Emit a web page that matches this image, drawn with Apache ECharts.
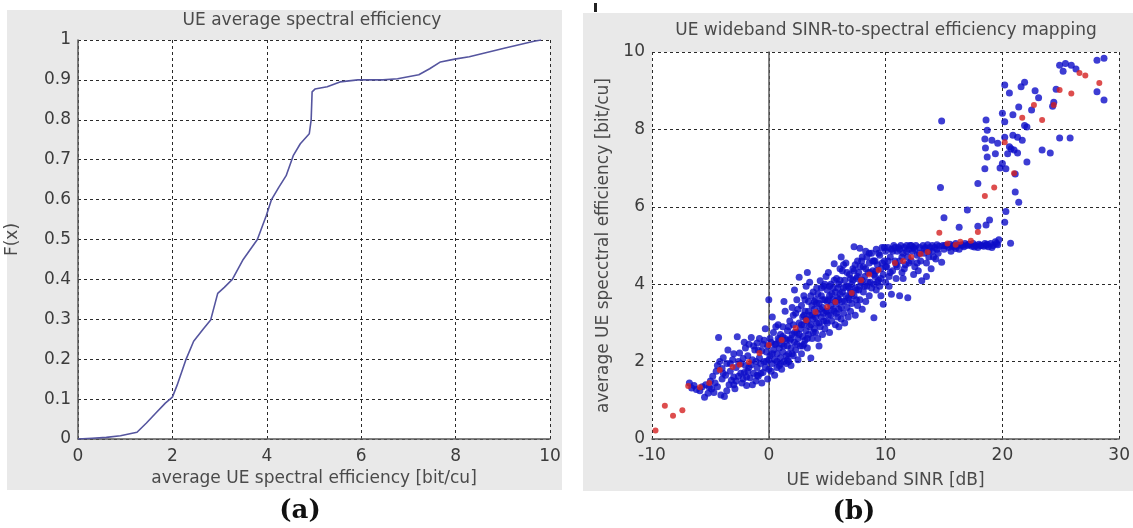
<!DOCTYPE html>
<html>
<head>
<meta charset="utf-8">
<script src="https://cdn.jsdelivr.net/npm/echarts@6/dist/echarts.min.js"></script>
<style>
  html, body { margin: 0; padding: 0; background: #ffffff; }
  #chart { width: 1133px; height: 528px; }
</style>
</head>
<body>
<div id="chart"></div>
<script>
// (a) empirical CDF of the average UE spectral efficiency
const cdfX = [0, 0.3, 0.6, 0.9, 1.25, 1.45, 1.65, 1.85, 2.0, 2.1, 2.28, 2.45, 2.65, 2.81, 2.96, 3.1, 3.27, 3.5, 3.8, 3.99,
  4.1, 4.25, 4.41, 4.56, 4.71, 4.9, 4.94, 4.96, 5.02, 5.28, 5.55, 5.93, 6.46, 6.77, 7.22, 7.45, 7.68, 7.98, 8.29, 9.05, 9.66, 9.81];
const cdfF = [0, 0.002, 0.004, 0.008, 0.017, 0.04, 0.065, 0.09, 0.105, 0.135, 0.197, 0.245, 0.275, 0.298, 0.365, 0.38, 0.40, 0.45, 0.5, 0.56,
  0.6, 0.63, 0.66, 0.71, 0.74, 0.765, 0.8, 0.87, 0.877, 0.883, 0.895, 0.9, 0.9, 0.903, 0.913, 0.928, 0.945, 0.952, 0.958, 0.98, 0.997, 1.0];

// (b) per-UE samples: [wideband SINR (dB), average spectral efficiency (bit/cu)]
const ueSamples = [
  [-6.8,1.45],[-6.6,1.32],[-6.4,1.38],[-6.2,1.28],
  [-5.9,1.25],[-5.7,1.35],[-5.5,1.08],[-5.4,1.4],[-5.2,1.18],[-5.1,1.34],[-5.0,1.5],
  [-4.9,1.29],[-4.8,1.62],[-4.6,1.45],[-4.5,1.75],[-4.4,1.9],[-4.3,2.62],[-4.2,2.0],[-4.1,1.14],[-4.0,1.55],[-4.0,1.82],
  [-3.9,2.1],[-3.8,1.1],[-3.7,1.65],[-3.6,1.95],[-3.5,2.3],[-3.4,1.4],[-3.3,1.75],[-3.2,1.52],[-3.1,2.05],[-3.0,1.6],[-3.0,2.2],
  [-2.9,1.3],[-2.8,1.85],[-2.7,2.64],[-2.6,1.62],[-2.5,2.22],[-2.4,1.95],[-2.3,1.45],[-2.2,2.08],[-2.1,1.72],[-2.0,1.9],[-2.0,2.35],[-2.2,1.55],
  [-1.9,1.38],[-1.8,2.15],[-1.7,2.45],[-1.6,1.58],[-1.5,1.92],[-1.4,2.05],[-1.3,1.7],[-1.2,2.3],[-1.1,1.5],[-1.0,2.48],[-1.0,1.85],[-1.5,2.62],[-1.8,1.75],
  [-0.9,1.62],[-0.8,2.1],[-0.7,1.95],[-0.6,2.28],[-0.5,1.72],[-0.4,2.55],[-0.3,2.85],[-0.2,2.0],[-0.1,1.55],[-0.1,2.4],[0.0,3.6],[-0.6,1.45],[-0.3,1.85],[-0.8,2.6],
  [0.1,2.15],[0.2,1.75],[0.2,2.5],[0.3,1.95],[0.4,2.3],[0.4,2.75],[0.5,1.65],[0.5,2.05],[0.6,2.45],[0.7,1.85],[0.7,2.2],[0.8,2.95],[0.8,2.6],[0.9,1.9],[0.9,2.35],[1.0,2.1],[1.0,2.7],[0.3,3.15],
  [1.1,1.8],[1.1,2.45],[1.2,2.25],[1.2,2.9],[1.3,2.0],[1.4,2.6],[1.4,3.3],[1.5,2.15],[1.5,1.95],[1.6,2.4],[1.6,2.8],[1.7,2.2],[1.8,3.05],[1.8,2.55],[1.9,1.9],[1.9,2.35],[2.0,2.7],[2.0,3.4],[1.3,3.55],[1.7,2.0],
  [2.1,2.15],[2.1,2.95],[2.2,2.5],[2.3,3.25],[2.3,2.3],[2.4,2.75],[2.4,3.6],[2.5,2.05],[2.5,2.6],[2.6,4.18],[2.6,3.0],[2.7,2.4],[2.7,2.85],[2.8,3.45],[2.8,2.2],[2.9,2.65],[2.9,3.15],[3.0,2.45],[3.0,3.7],[2.2,3.85],[3.0,2.95],
  [3.1,2.55],[3.1,3.3],[3.2,2.8],[3.2,3.95],[3.3,2.35],[3.3,3.05],[3.4,3.55],[3.4,2.7],[3.5,3.2],[3.5,4.05],[3.6,2.09],[3.6,2.95],[3.7,3.45],[3.7,2.6],[3.8,3.8],[3.8,3.1],[3.9,2.85],[3.9,3.35],[4.0,3.6],[4.0,2.75],[3.3,4.3],
  [4.1,3.0],[4.1,3.9],[4.2,3.25],[4.2,2.6],[4.3,3.5],[4.4,4.09],[4.4,2.9],[4.5,3.7],[4.5,3.15],[4.6,2.7],[4.6,3.4],[4.7,3.95],[4.7,3.05],[4.8,3.6],[4.8,2.85],[4.9,3.3],[4.9,4.2],[5.0,3.0],[5.0,3.55],[5.0,3.85],[4.3,2.4],
  [5.1,3.2],[5.1,4.3],[5.2,3.7],[5.2,2.75],[5.3,3.45],[5.3,4.0],[5.4,3.05],[5.5,3.6],[5.5,3.9],[5.6,4.53],[5.6,3.3],[5.7,2.95],[5.7,3.8],[5.8,3.5],[5.8,4.15],[5.9,3.15],[5.9,3.65],[6.0,4.0],[6.0,3.35],[6.0,2.9],
  [6.1,3.75],[6.1,4.4],[6.2,3.1],[6.3,4.35],[6.3,3.55],[6.4,3.9],[6.4,3.25],[6.5,4.1],[6.5,3.0],[6.6,3.7],[6.6,4.55],[6.7,3.4],[6.8,3.95],[6.8,3.15],[6.9,4.25],[6.9,3.6],[7.0,3.8],[7.0,3.3],[6.2,4.7],
  [7.1,4.0],[7.1,3.5],[7.2,4.4],[7.3,4.97],[7.3,3.7],[7.4,3.2],[7.5,4.15],[7.5,3.85],[7.6,4.6],[7.6,3.45],[7.7,4.3],[7.8,3.95],[7.8,3.6],[7.8,4.93],[7.95,4.6],[8.0,4.1],[8.0,3.35],[7.4,4.5],
  [8.1,3.8],[8.1,4.45],[8.2,4.2],[8.3,3.55],[8.4,4.7],[8.4,3.95],[8.5,4.3],[8.6,3.7],[8.6,4.55],[8.7,4.05],[8.8,4.8],[8.8,3.9],[8.9,4.35],[9.0,3.13],[9.0,4.6],[9.0,4.0],[8.3,4.85],
  [9.1,4.2],[9.2,4.9],[9.2,3.85],[9.3,4.5],[9.4,4.1],[9.5,4.75],[9.5,3.95],[9.6,4.4],[9.7,4.95],[9.8,3.48],[9.8,4.25],[9.9,4.6],[10.0,4.85],[10.0,4.05],[9.6,3.7],
  [10.1,4.45],[10.2,4.95],[10.3,4.2],[10.4,4.7],[10.5,3.74],[10.5,4.9],[10.6,4.35],[10.7,5.0],[10.8,4.6],[10.9,4.15],[11.0,4.85],[11.0,4.45],[11.2,3.7],[10.3,3.95],
  [11.1,4.95],[11.2,4.6],[11.3,5.0],[11.4,4.3],[11.5,4.8],[11.6,4.95],[11.7,4.5],[11.8,5.0],[11.9,3.65],[11.9,4.7],[12.0,4.9],[11.5,4.15],
  [12.1,5.0],[12.2,4.6],[12.3,4.85],[12.4,4.95],[12.5,4.45],[12.6,5.0],[12.7,4.75],[12.8,4.35],[12.9,4.95],[13.0,4.6],[13.1,4.09],[12.4,4.25],
  [13.2,5.0],[13.3,4.8],[13.4,4.95],[13.5,4.55],[13.6,5.02],[13.7,4.7],[13.8,4.95],[13.9,4.4],[14.0,4.85],[14.0,5.0],[13.5,4.2],
  [14.2,4.95],[14.3,4.65],[14.4,5.02],[14.5,4.8],[14.6,4.98],[14.8,4.57],[14.9,5.0],[15.0,4.9],
  [15.2,5.0],[15.4,4.95],[15.5,5.03],[15.7,4.98],[15.8,5.0],[16.0,4.92],[16.0,5.05],[15.6,4.85],
  [16.2,5.0],[16.5,5.02],[16.7,4.97],[16.8,5.05],[17.0,5.0],[16.3,4.9],
  [17.2,5.02],[17.4,4.98],[17.5,5.05],[17.7,5.0],[17.9,4.95],[18.0,5.03],
  [18.2,5.0],[18.4,4.98],[18.5,5.05],[18.6,5.0],[18.8,4.97],[19.0,5.05],[19.2,5.0],[19.4,5.1],[19.6,5.02],[19.7,5.15],
  [-4.7,1.2],[-4.4,1.35],[-3.9,1.7],[-3.6,1.25],[-3.3,1.95],[-3.0,1.4],
  [-2.8,1.5],[-2.6,2.0],[-2.4,1.7],[-2.1,2.5],[-1.9,1.6],[-1.7,1.85],[-1.4,1.4],[-1.3,2.4],[-1.1,2.0],[-1.0,1.65],
  [-0.9,2.3],[-0.7,1.7],[-0.5,2.45],[-0.4,2.0],[-0.2,2.25],[0.0,1.8],[0.0,2.05],[0.1,2.6],[0.3,2.2],[0.5,2.45],[0.6,2.9],[0.7,2.0],[0.9,2.55],[1.0,1.95],
  [1.2,2.65],[1.3,2.4],[1.5,2.55],[1.6,2.05],[1.7,2.9],[1.9,2.6],[2.0,2.2],[2.1,3.2],[2.2,2.75],[2.4,2.45],[2.5,3.35],[2.6,2.7],[2.8,2.95],[2.9,2.4],[3.0,3.2],
  [3.1,3.6],[3.2,3.1],[3.3,2.6],[3.4,3.3],[3.5,2.9],[3.6,3.7],[3.7,3.2],[3.8,2.75],[3.9,3.55],[4.0,3.15],[4.1,3.5],[4.2,3.75],[4.3,3.0],[4.4,3.35],[4.5,3.9],[4.6,3.6],[4.7,3.25],[4.8,4.0],[4.9,3.05],[5.0,3.3],
  [5.1,3.6],[5.2,3.95],[5.3,3.2],[5.4,3.75],[5.5,3.35],[5.6,4.1],[5.7,3.55],[5.8,3.25],[5.9,3.9],[6.0,3.6],[6.1,4.1],[6.2,3.4],[6.3,3.8],[6.4,4.5],[6.5,3.55],[6.6,3.95],[6.7,4.3],[6.8,3.65],[6.9,3.9],[7.0,4.15],
  [7.1,3.75],[7.2,4.1],[7.3,4.35],[7.4,3.9],[7.5,3.6],[7.6,4.2],[7.7,3.85],[7.8,4.45],[7.9,4.05],[8.0,4.7],[8.2,3.95],[8.3,4.4],[8.5,4.05],[8.6,4.8],[8.7,4.3],[8.9,4.6],[9.0,4.25],
  [9.1,4.6],[9.2,4.35],[9.3,4.05],[9.4,4.8],[9.6,4.15],[9.7,4.55],[9.9,4.95],[10.0,4.45],[10.2,4.6],[10.4,4.3],[10.6,4.85],[10.8,4.95],[10.9,4.5],
  [11.2,4.9],[11.4,4.7],[11.6,4.4],[11.8,4.85],[12.0,4.55],[12.2,5.0],[12.5,4.9],[12.7,4.55],[12.9,4.8],
  [13.3,4.9],[13.7,4.85],[14.1,4.7],[14.4,4.9],[15.1,5.0],[15.9,4.97],[16.6,5.0],[17.1,5.03],[17.6,4.96],[18.1,5.0],[18.7,5.03],[19.1,4.95],[19.5,5.05],
  [14.7,6.5],[14.8,8.22],[15.0,5.72],[16.3,5.47],[17.0,5.92],[17.9,5.5],[17.9,6.6],[18.5,6.98],[18.5,7.75],[18.55,7.52],
  [18.7,7.29],[18.6,8.24],[18.7,7.98],[18.6,5.53],[18.9,5.66],[19.1,7.72],[19.4,7.37],[19.6,7.64],[19.8,7.0],[20.0,7.12],
  [20.0,8.42],[20.2,9.15],[20.2,8.2],[20.2,7.8],[20.2,5.6],[20.3,5.88],[20.3,6.98],[20.45,7.37],[20.6,8.94],[20.6,7.55],
  [20.7,5.06],[20.75,7.5],[20.9,8.38],[20.9,7.85],[21.0,7.47],[21.1,6.85],[21.1,6.38],[21.3,7.8],[21.3,7.39],[21.4,6.12],
  [21.4,8.58],[21.6,9.1],[21.7,7.72],[21.9,9.22],[21.9,8.1],[22.1,7.16],[22.1,8.06],[22.5,8.5],[22.8,9.0],[23.1,8.82],
  [23.4,7.47],[24.1,7.39],[24.3,8.6],[24.4,8.7],[24.6,9.04],[24.9,9.66],[25.2,9.5],[25.4,9.7],[25.9,9.66],[26.3,9.56],
  [24.9,7.78],[25.8,7.78],[28.1,8.97],[28.7,8.76],[28.1,9.79],[28.7,9.84]
];

// (b) binned mapping points
const meanMapping = [
  [-9.7,0.22],[-8.9,0.86],[-8.2,0.6],[-7.4,0.74],[-6.9,1.37],[-5.9,1.34],[-5.1,1.45],[-4.2,1.78],[-3.1,1.86],[-2.5,1.92],
  [-1.7,1.99],[-0.8,2.22],[0.0,2.43],[1.1,2.56],[2.3,2.87],[3.2,3.07],[4.0,3.28],[5.0,3.41],[5.7,3.54],[7.1,3.77],
  [7.9,4.1],[8.6,4.25],[9.4,4.37],[10.8,4.55],[11.5,4.6],[12.2,4.7],[13.0,4.78],[13.6,4.83],[14.6,5.33],[15.3,5.05],
  [16.0,5.02],[16.4,5.1],[17.3,5.12],[17.9,5.35],[18.5,6.28],[19.3,6.5],[20.2,7.67],[21.0,6.87],[21.7,8.3],[22.7,8.63],
  [23.4,8.24],[24.4,8.63],[24.9,9.02],[25.9,8.93],[26.6,9.46],[27.1,9.39],[28.3,9.2]
];

const cdfData = cdfX.map((x, i) => [x, cdfF[i]]);

const FONT = 'DejaVu Sans';
const tickText = { fontFamily: FONT, fontSize: 17, color: '#3c3c3c' };
const nameText = { fontFamily: FONT, fontSize: 17, color: '#4a4a4a' };
const gridLine = { show: true, lineStyle: { color: '#2a2a2a', width: 1, type: [3, 3] } };
const axisLine = { show: true, lineStyle: { color: '#5a5a5a', width: 1.5 } };

const chart = echarts.init(document.getElementById('chart'), null, { renderer: 'canvas' });

chart.setOption({
  animation: false,
  backgroundColor: '#ffffff',
  graphic: [
    { type: 'rect', z: -10, shape: { x: 7, y: 10, width: 555, height: 480 }, style: { fill: '#e9e9e9' } },
    { type: 'rect', z: -10, shape: { x: 583, y: 13, width: 550, height: 478 }, style: { fill: '#e9e9e9' } },
    { type: 'rect', z: -10, shape: { x: 594, y: 3, width: 3, height: 9 }, style: { fill: '#222222' } },
    { type: 'text', style: { text: 'UE average spectral efficiency', x: 312, y: 21, align: 'center', verticalAlign: 'middle',
        font: '17px "DejaVu Sans"', fill: '#4a4a4a' } },
    { type: 'text', style: { text: 'UE wideband SINR-to-spectral efficiency mapping', x: 886, y: 31, align: 'center', verticalAlign: 'middle',
        font: '17px "DejaVu Sans"', fill: '#4a4a4a' } },
    { type: 'text', style: { text: '(a)', x: 300, y: 511, align: 'center', verticalAlign: 'middle',
        font: 'bold 26px "DejaVu Serif"', fill: '#111111' } },
    { type: 'text', style: { text: '(b)', x: 854, y: 512, align: 'center', verticalAlign: 'middle',
        font: 'bold 26px "DejaVu Serif"', fill: '#111111' } }
  ],
  grid: [
    { left: 78, top: 40, width: 472, height: 399, show: true, backgroundColor: '#ffffff', borderWidth: 0 },
    { left: 652, top: 52, width: 471, height: 387, show: true, backgroundColor: '#ffffff', borderWidth: 0 }
  ],
  xAxis: [
    { gridIndex: 0, type: 'value', min: 0, max: 10, interval: 2,
      axisLine, axisTick: { show: false }, splitLine: gridLine,
      axisLabel: Object.assign({ margin: 9 }, tickText),
      name: 'average UE spectral efficiency [bit/cu]', nameLocation: 'middle', nameGap: 31, nameTextStyle: nameText },
    { gridIndex: 1, type: 'value', min: -10, max: 30, interval: 10,
      axisLine, axisTick: { show: false }, splitLine: gridLine,
      axisLabel: Object.assign({ margin: 8 }, tickText),
      name: 'UE wideband SINR [dB]', nameLocation: 'middle', nameGap: 33, nameTextStyle: nameText }
  ],
  yAxis: [
    { gridIndex: 0, type: 'value', min: 0, max: 1, interval: 0.1,
      axisLine, axisTick: { show: false }, splitLine: gridLine,
      axisLabel: Object.assign({ margin: 7, formatter: v => (v === 0 || v === 1) ? String(v) : v.toFixed(1) }, tickText),
      name: 'F(x)', nameLocation: 'middle', nameGap: 57, nameTextStyle: nameText },
    { gridIndex: 1, type: 'value', min: 0, max: 10, interval: 2,
      axisLine, axisTick: { show: false }, splitLine: gridLine,
      axisLabel: Object.assign({ margin: 7 }, tickText),
      name: 'average UE specctral efficiency [bit/cu]', nameLocation: 'middle', nameGap: 40, nameTextStyle: nameText }
  ],
  series: [
    { type: 'line', xAxisIndex: 0, yAxisIndex: 0, data: cdfData, showSymbol: false, smooth: false,
      lineStyle: { color: '#55559f', width: 1.6 }, z: 3 },
    { type: 'scatter', xAxisIndex: 1, yAxisIndex: 1, data: ueSamples, symbol: 'circle', symbolSize: 7,
      itemStyle: { color: '#0c0cc8' }, z: 3 },
    { type: 'scatter', xAxisIndex: 1, yAxisIndex: 1, data: meanMapping, symbol: 'circle', symbolSize: 6,
      itemStyle: { color: '#d42020' }, z: 4 }
  ]
});
</script>
</body>
</html>
